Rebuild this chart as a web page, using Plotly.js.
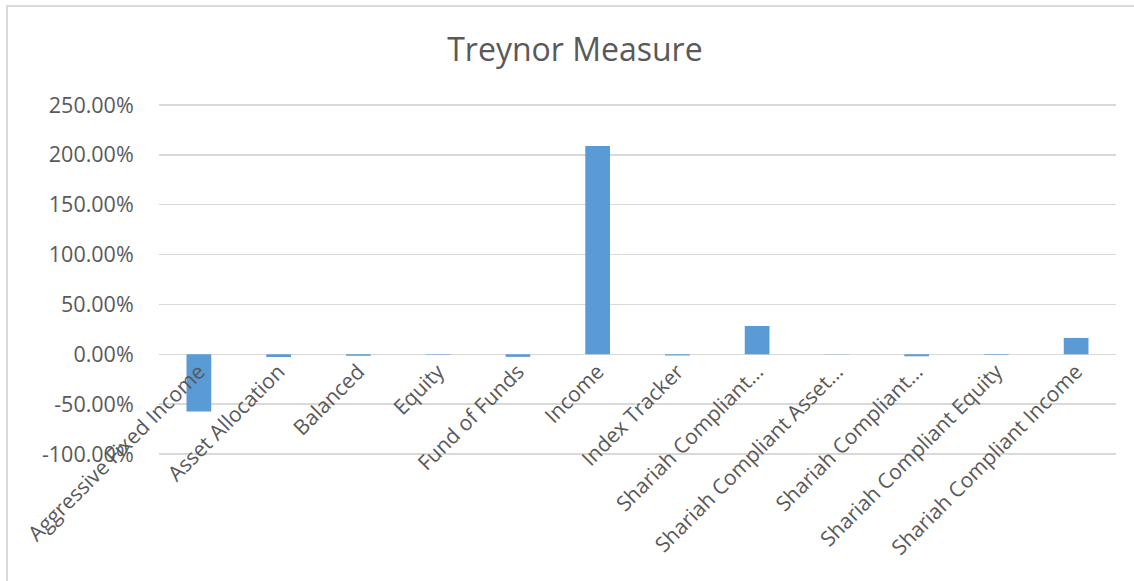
<!DOCTYPE html>
<html>
<head>
<meta charset="utf-8">
<script src="https://cdn.plot.ly/plotly-3.0.1.min.js"></script>
<style>
  html, body { margin: 0; padding: 0; background: #ffffff; }
  #wrap { position: relative; width: 1134px; height: 581px; overflow: hidden; }
  #frame { position: absolute; left: 6px; top: 5px; width: 1200px; height: 700px;
           border-left: 2px solid #d9d9d9; border-top: 2px solid #d9d9d9; pointer-events: none; }
  #chart { position: absolute; left: 0; top: 0; width: 1134px; height: 581px; }
</style>
</head>
<body>
<div id="wrap">
  <div id="chart"></div>
  <div id="frame"></div>
</div>
<script>
const categories = [
  "Aggressive Fixed Income",
  "Asset Allocation",
  "Balanced",
  "Equity",
  "Fund of Funds",
  "Income",
  "Index Tracker",
  "Shariah Compliant…",
  "Shariah Compliant Asset…",
  "Shariah Compliant…",
  "Shariah Compliant Equity",
  "Shariah Compliant Income"
];
// Treynor measure, in percent
const treynorValues = [-57.3, -2.7, -1.5, -0.5, -2.6, 208.8, -1.2, 28.4, -0.2, -2.0, -0.6, 16.4];
const yTickVals = [-100, -50, 0, 50, 100, 150, 200, 250];
const yTickLabels = ["-100.00%", "-50.00%", "0.00%", "50.00%", "100.00%", "150.00%", "200.00%", "250.00%"];

const xIdx = categories.map((c, i) => i);

const textColor = "#595959";
const fontFamily = "'Open Sans', 'Noto Sans', sans-serif";

const trace = {
  type: "bar",
  x: xIdx,
  y: treynorValues,
  marker: { color: "#5b9bd5", line: { width: 0 } },
  hoverinfo: "x+y"
};

const yMin = -105, yMax = 255;

const layout = {
  width: 1134,
  height: 581,
  margin: { l: 159, r: 18, t: 100, b: 122 },
  paper_bgcolor: "rgba(0,0,0,0)",
  plot_bgcolor: "#ffffff",
  showlegend: false,
  bargap: 0.69,
  title: {
    text: "Treynor Measure",
    font: { family: fontFamily, size: 32, color: textColor },
    xref: "container", x: 0.507, xanchor: "center",
    yref: "container", y: 0.914, yanchor: "middle"
  },
  xaxis: {
    type: "linear",
    range: [-0.5, categories.length - 0.5],
    tickvals: xIdx,
    ticktext: categories,
    tickangle: -45,
    tickfont: { family: fontFamily, size: 21, color: textColor },
    anchor: "free",
    position: (0 - yMin) / (yMax - yMin),
    showgrid: false,
    zeroline: false,
    showline: false,
    ticks: "",
    automargin: false,
    fixedrange: true
  },
  yaxis: {
    range: [yMin, yMax],
    tickvals: yTickVals,
    ticktext: yTickLabels,
    tickfont: { family: fontFamily, size: 21.5, color: textColor },
    showgrid: true,
    gridcolor: "#d9d9d9",
    gridwidth: 1.5,
    zeroline: true,
    zerolinecolor: "#d9d9d9",
    zerolinewidth: 1.5,
    showline: false,
    ticks: "outside",
    ticklen: 20,
    tickcolor: "rgba(0,0,0,0)",
    automargin: false,
    fixedrange: true
  }
};

Plotly.newPlot("chart", [trace], layout, { displayModeBar: false, staticPlot: true });
</script>
</body>
</html>
